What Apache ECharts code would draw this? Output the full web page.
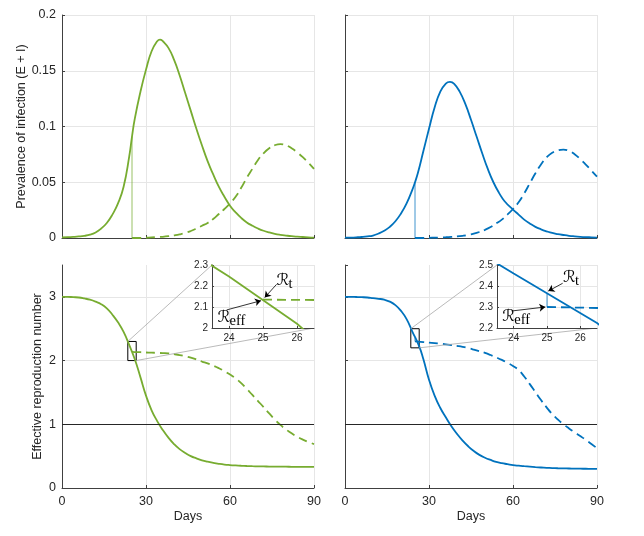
<!DOCTYPE html>
<html><head><meta charset="utf-8">
<script src="https://cdn.jsdelivr.net/npm/echarts@6/dist/echarts.min.js"></script>
<style>html,body{margin:0;padding:0;background:#fff}#c{width:644px;height:536px}</style>
</head><body><div id="c"></div>
<script>
// ---------- data ----------
const xTicks = [0, 30, 60, 90];
const switchDay = 25;

// Prevalence, green (left)
const gPrevDays = [0,2,4,6,8,10,12,14,16,18,20,22,24,25,26,28,30,32,34,35,36,38,40,42,44,46,48,50,52,54,56,58,60,62,64,66,68,70,72,74,76,78,80,82,84,86,88,90];
const gPrevSolid = [0.0005,0.0007,0.001,0.0014,0.002,0.003,0.005,0.0085,0.0135,0.021,0.031,0.046,0.073,0.091,0.107,0.131,0.151,0.1675,0.1765,0.178,0.1765,0.1705,0.160,0.146,0.130,0.114,0.098,0.083,0.069,0.057,0.046,0.037,0.029,0.023,0.018,0.014,0.011,0.0085,0.0065,0.005,0.0038,0.0029,0.0022,0.0016,0.0012,0.0009,0.0006,0.0004];
const gPrevDashDays = [25,26,28,30,32,34,36,38,40,42,44,46,48,50,52,54,56,58,60,62,64,66,68,70,72,74,76,78,80,82,84,86,88,90];
const gPrevDash = [0,0,0,0.0003,0.0005,0.0008,0.0011,0.0016,0.0023,0.0032,0.0045,0.0063,0.0085,0.011,0.0135,0.017,0.0215,0.026,0.031,0.037,0.045,0.054,0.062,0.070,0.076,0.0805,0.0832,0.0842,0.0832,0.0805,0.0768,0.0725,0.0675,0.062];

// Prevalence, blue (right)
const bPrevDays = [0,2,4,6,8,10,12,14,16,18,20,22,24,25,26,28,30,32,34,36,37.5,39,41,43,45,47,49,51,53,55,57,60,62,64,66,68,70,72,74,76,78,80,82,84,86,88,90];
const bPrevSolid = [0.0003,0.0004,0.0006,0.0009,0.0014,0.0022,0.004,0.0065,0.010,0.015,0.022,0.031,0.043,0.050,0.058,0.078,0.098,0.117,0.131,0.1385,0.140,0.1383,0.131,0.120,0.106,0.091,0.076,0.062,0.050,0.0405,0.033,0.0255,0.021,0.0165,0.013,0.010,0.0078,0.006,0.0045,0.0035,0.0027,0.002,0.0015,0.0011,0.0008,0.0006,0.0004];
const bPrevDashDays = [25,26,28,30,32,34,36,38,40,42,44,46,48,50,52,54,56,58,60,62,64,66,68,70,72,74,76,78,80,82,84,86,88,90];
const bPrevDash = [0,0,0,0.0002,0.0003,0.0005,0.0007,0.001,0.0014,0.002,0.0028,0.0039,0.0054,0.0073,0.0098,0.013,0.0165,0.021,0.026,0.032,0.040,0.049,0.058,0.066,0.0723,0.0765,0.0785,0.0792,0.0782,0.0752,0.0708,0.0658,0.0605,0.055];

// Effective reproduction number, green (left)
const gRDays = [0,2,4,6,8,10,12,14,16,18,20,22,24,26,28,30,32,34,36,38,40,42,44,46,48,50,52,54,56,58,60,62,64,66,68,70,72,74,76,78,80,82,84,86,88,90];
const gRSolid = [3.00,3.00,2.995,2.99,2.975,2.955,2.925,2.885,2.82,2.72,2.60,2.45,2.245,2.02,1.74,1.45,1.22,1.05,0.91,0.79,0.69,0.61,0.55,0.50,0.465,0.435,0.413,0.395,0.38,0.368,0.36,0.354,0.349,0.345,0.342,0.34,0.338,0.337,0.336,0.335,0.334,0.333,0.332,0.331,0.3305,0.33];
const gRDashDays = [25,26,28,30,32,34,36,38,40,42,44,46,48,50,52,54,56,58,60,62,64,66,68,70,72,74,76,78,80,82,84,86,88,90];
const gRDash = [2.135,2.134,2.131,2.127,2.124,2.121,2.117,2.112,2.10,2.087,2.068,2.045,2.017,1.985,1.955,1.92,1.88,1.835,1.78,1.72,1.645,1.555,1.46,1.365,1.27,1.17,1.075,0.99,0.92,0.858,0.805,0.76,0.722,0.69];

// Effective reproduction number, blue (right)
const bRDays = [0,2,4,6,8,10,12,14,16,18,20,22,24,26.5,28,30,32,34,36,38,40,42,44,46,48,50,52,54,56,58,60,62,64,66,68,70,72,74,76,78,80,82,84,86,88,90];
const bRSolid = [3.00,3.00,2.998,2.995,2.99,2.98,2.97,2.955,2.925,2.87,2.78,2.65,2.46,2.224,2.02,1.70,1.45,1.26,1.11,0.97,0.85,0.745,0.655,0.58,0.52,0.475,0.44,0.41,0.39,0.375,0.36,0.35,0.342,0.335,0.328,0.322,0.317,0.313,0.31,0.308,0.306,0.304,0.303,0.302,0.301,0.30];
const bRDashDays = [25,26,28,30,32,34,36,38,40,42,44,46,48,50,52,54,56,58,60,62,64,66,68,70,72,74,76,78,80,82,84,86,88,90];
const bRDash = [2.30,2.297,2.29,2.282,2.274,2.265,2.255,2.243,2.23,2.215,2.195,2.172,2.147,2.12,2.087,2.05,2.01,1.965,1.915,1.85,1.75,1.63,1.505,1.38,1.265,1.16,1.075,1.0,0.935,0.875,0.815,0.755,0.69,0.625];
const bRSolidAtSwitch = 2.366;

// Zoom windows (inset ranges)
const zoomX = [23.5, 26.5];
const zoomYLeft = [2.0, 2.3];
const zoomYRight = [2.2, 2.5];

// Annotation anchors in inset coordinates: [labelAnchor, arrowStart, arrowTip]
const annLeftRt = [[25.40, 2.226], [25.40, 2.208], [25.05, 2.145]];
const annLeftReff = [[23.66, 2.050], [23.93, 2.086], [24.94, 2.130]];
const annRightRt = [[25.48, 2.440], [25.47, 2.413], [25.04, 2.376]];
const annRightReff = [[23.66, 2.255], [23.94, 2.281], [24.95, 2.300]];

// ---------- helpers ----------
const GREEN = '#77AC30', BLUE = '#0072BD';
const TXT = '#262626', AX = '#404040', GRID = '#e6e6e6';
const FONT = "'Liberation Sans', Arial, Helvetica, sans-serif";
const zip = (d, v) => d.map((x, i) => [x, v[i]]);
const valAt = (d, v, day) => v[d.indexOf(day)];

function mainX(gi, showLabel) {
  return {
    type: 'value', gridIndex: gi, min: xTicks[0], max: xTicks[xTicks.length - 1], interval: xTicks[1] - xTicks[0],
    axisLine: { show: true, onZero: false, lineStyle: { color: AX, width: 1 } },
    axisTick: { show: true, inside: true, length: 3, lineStyle: { color: AX } },
    axisLabel: { show: showLabel, fontSize: 12.5, color: TXT, margin: 7, fontFamily: FONT },
    splitLine: { show: true, lineStyle: { color: GRID, width: 1 } },
    name: showLabel ? 'Days' : '', nameLocation: 'middle', nameGap: 22,
    nameTextStyle: { fontSize: 12.5, color: TXT, fontFamily: FONT }
  };
}
function mainY(gi, min, max, interval, showLabel, name, gap, hideMax) {
  return {
    type: 'value', gridIndex: gi, min: min, max: max, interval: interval,
    axisLine: { show: true, onZero: false, lineStyle: { color: AX, width: 1 } },
    axisTick: { show: true, inside: true, length: 3, lineStyle: { color: AX } },
    axisLabel: { show: showLabel, fontSize: 12.5, color: TXT, margin: 6, fontFamily: FONT, showMaxLabel: !hideMax },
    splitLine: { show: true, showMaxLine: !hideMax, lineStyle: { color: GRID, width: 1 } },
    name: name, nameLocation: 'middle', nameGap: gap,
    nameTextStyle: { fontSize: 12.5, color: TXT, fontFamily: FONT }
  };
}
function insetX(gi) {
  return {
    type: 'value', gridIndex: gi, min: zoomX[0], max: zoomX[1], splitNumber: 3, z: 5,
    axisLine: { show: true, onZero: false, lineStyle: { color: AX, width: 1 } },
    axisTick: { show: true, inside: true, length: 2, lineStyle: { color: AX } },
    axisLabel: { fontSize: 10, color: TXT, margin: 5, fontFamily: FONT, showMinLabel: false, showMaxLabel: false },
    splitLine: { show: true, lineStyle: { color: GRID, width: 1 } }
  };
}
function insetY(gi, r) {
  return {
    type: 'value', gridIndex: gi, min: r[0], max: r[1], interval: 0.1, z: 5,
    axisLine: { show: true, onZero: false, lineStyle: { color: AX, width: 1 } },
    axisTick: { show: true, inside: true, length: 2, lineStyle: { color: AX } },
    axisLabel: { fontSize: 10, color: TXT, margin: 4, fontFamily: FONT },
    splitLine: { show: true, lineStyle: { color: GRID, width: 1 } }
  };
}
function line(gi, data, color, dashed, extra) {
  return Object.assign({
    type: 'line', xAxisIndex: gi, yAxisIndex: gi, data: data, showSymbol: false, symbol: 'none',
    smooth: 0.5, lineStyle: { color: color, width: 1.8, type: dashed ? [9, 5] : 'solid' },
    silent: true, z: gi >= 4 ? 6 : 2
  }, extra || {});
}
function thin(gi, data, color) {
  return { type: 'line', xAxisIndex: gi, yAxisIndex: gi, data: data, symbol: 'none', silent: true,
    lineStyle: { color: color, width: 1, opacity: 0.75 }, z: gi >= 4 ? 6 : 2 };
}
const oneLine = { silent: true, symbol: ['none', 'none'], label: { show: false },
  lineStyle: { color: TXT, width: 1, type: 'solid' }, data: [{ yAxis: 1 }] };
function rectArea(yr) {
  return { silent: true, label: { show: false },
    itemStyle: { color: 'rgba(0,0,0,0)', borderColor: '#000', borderWidth: 1 },
    data: [[{ coord: [zoomX[0], yr[1]] }, { coord: [zoomX[1], yr[0]] }]] };
}
function arrows(list) {
  return { silent: true, label: { show: false }, symbolSize: 6,
    lineStyle: { color: '#000', width: 0.8, type: 'solid' },
    data: list.map(a => [{ coord: a[1], symbol: 'none' }, { coord: a[2], symbol: 'arrow' }]) };
}

const option = {
  animation: false,
  backgroundColor: '#fff',
  textStyle: { fontFamily: FONT },
  grid: [
    { left: 62, top: 15, width: 252, height: 223 },
    { left: 345, top: 15, width: 252, height: 223 },
    { left: 62, top: 265, width: 252, height: 223 },
    { left: 345, top: 265, width: 252, height: 223 },
    { left: 212, top: 265, width: 102, height: 63, show: true, backgroundColor: '#fff', borderWidth: 0, z: 5 },
    { left: 497, top: 265, width: 100, height: 63, show: true, backgroundColor: '#fff', borderWidth: 0, z: 5 }
  ],
  xAxis: [mainX(0, false), mainX(1, false), mainX(2, true), mainX(3, true), insetX(4), insetX(5)],
  yAxis: [
    mainY(0, 0, 0.2, 0.05, true, 'Prevalence of infection (E + I)', 34, false),
    mainY(1, 0, 0.2, 0.05, false, '', 0, false),
    mainY(2, 0, 3.5, 1, true, 'Effective reproduction number', 18, true),
    mainY(3, 0, 3.5, 1, false, '', 0, true),
    insetY(4, zoomYLeft), insetY(5, zoomYRight)
  ],
  series: [
    line(0, zip(gPrevDays, gPrevSolid), GREEN, false),
    line(0, zip(gPrevDashDays, gPrevDash), GREEN, true),
    thin(0, [[switchDay, 0], [switchDay, valAt(gPrevDays, gPrevSolid, switchDay)]], GREEN),
    line(1, zip(bPrevDays, bPrevSolid), BLUE, false),
    line(1, zip(bPrevDashDays, bPrevDash), BLUE, true),
    thin(1, [[switchDay, 0], [switchDay, valAt(bPrevDays, bPrevSolid, switchDay)]], BLUE),
    line(2, zip(gRDays, gRSolid), GREEN, false, { markLine: oneLine, markArea: rectArea(zoomYLeft) }),
    line(2, zip(gRDashDays, gRDash), GREEN, true),
    line(3, zip(bRDays, bRSolid), BLUE, false, { markLine: oneLine, markArea: rectArea(zoomYRight) }),
    line(3, zip(bRDashDays, bRDash), BLUE, true),
    thin(3, [[switchDay, bRSolidAtSwitch], [switchDay, bRDash[0]]], BLUE),
    line(4, zip(gRDays, gRSolid), GREEN, false, { smooth: false, markLine: arrows([annLeftRt, annLeftReff]) }),
    line(4, zip(gRDashDays, gRDash), GREEN, true, { smooth: false }),
    line(5, zip(bRDays, bRSolid), BLUE, false, { smooth: false, markLine: arrows([annRightRt, annRightReff]) }),
    line(5, zip(bRDashDays, bRDash), BLUE, true, { smooth: false }),
    thin(5, [[switchDay, bRSolidAtSwitch], [switchDay, bRDash[0]]], BLUE)
  ]
};

const chart = echarts.init(document.getElementById('c'), null, { renderer: 'canvas' });
chart.setOption(option);

// connector lines and math labels, positioned through the axes
const P = (gi, pt) => chart.convertToPixel({ xAxisIndex: gi, yAxisIndex: gi }, pt);
function connector(a, b) {
  return { type: 'line', z: 4, silent: true, shape: { x1: a[0], y1: a[1], x2: b[0], y2: b[1] },
    style: { stroke: '#a8a8a8', lineWidth: 0.8 } };
}
function mathLabel(gi, anchor, sub) {
  const p = P(gi, anchor);
  return { type: 'group', x: p[0], y: p[1], z: 10, silent: true, children: [
    { type: 'text', x: 0, y: 0, z: 10, style: { text: '\u211B', fontSize: 16, fontFamily: "'DejaVu Serif','DejaVu Sans',serif",
      fill: '#000', align: 'left', verticalAlign: 'middle' } },
    { type: 'text', x: 12, y: 4, z: 10, style: { text: sub, fontSize: 14.5, fontFamily: "'Liberation Serif','Times New Roman',serif",
      fill: '#000', align: 'left', verticalAlign: 'middle' } }
  ] };
}
const graphics = [
  connector(P(2, [zoomX[0], zoomYLeft[1]]), P(4, [zoomX[0], zoomYLeft[1]])),
  connector(P(2, [zoomX[1], zoomYLeft[0]]), P(4, [zoomX[1], zoomYLeft[0]])),
  connector(P(3, [zoomX[0], zoomYRight[1]]), P(5, [zoomX[0], zoomYRight[1]])),
  connector(P(3, [zoomX[1], zoomYRight[0]]), P(5, [zoomX[1], zoomYRight[0]])),
  mathLabel(4, annLeftRt[0], 't'),
  mathLabel(4, annLeftReff[0], 'eff'),
  mathLabel(5, annRightRt[0], 't'),
  mathLabel(5, annRightReff[0], 'eff')
];
chart.setOption({ graphic: graphics });
</script>
</body></html>
